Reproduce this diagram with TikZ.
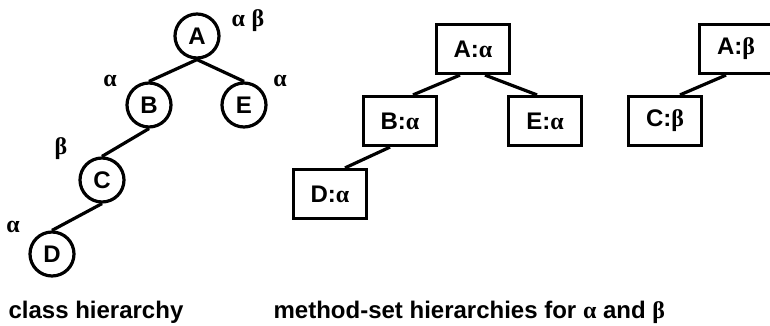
\documentclass[tikz,border=0pt]{standalone}
\usepackage{fontspec}
\setmainfont{Liberation Sans}
\newfontfamily\grk{Liberation Serif}
\newcommand{\ga}{{\grk α}}
\newcommand{\gb}{{\grk β}}
\usetikzlibrary{calc}

\begin{document}
\begin{tikzpicture}[
  x = 1pt, y = -1pt,
  line width = 3.2pt,
  every node/.style = {font=\bfseries\fontsize{24}{28}\selectfont},
  cls/.style = {draw,circle,minimum size=44pt,inner sep=0pt},
  mset/.style = {draw,rectangle,minimum width=73pt,minimum height=49pt,inner sep=0pt},
  lbl/.style = {anchor=base,inner sep=0pt},
  caption/.style = {anchor=base west,inner sep=0pt}
  ]
  \useasboundingbox (0,0) rectangle (770,326);

  % class hierarchy
  \node[cls] (@A) at (197,36) {A};
  \node[cls] (@B) at (149,105) {B};
  \node[cls] (@E) at (244,105) {E};
  \node[cls] (@C) at (102,180) {C};
  \node[cls] (@D) at (52,254) {D};

  \node[lbl] (@lA) at (248,27) {\ga\ \gb};
  \node[lbl] (@lB) at (110,87) {\ga};
  \node[lbl] (@lE) at (280,87) {\ga};
  \node[lbl] (@lC) at (61,154) {\gb};
  \node[lbl] (@lD) at (13,232) {\ga};

  \draw (@A.south) -- (@B.north);
  \draw (@A.south) -- (@E.north);
  \draw (@B.south) -- (@C.north);
  \draw (@C.south) -- (@D.north);

  % method-set hierarchies
  \node[mset] (@Aal) at (473,49) {A:\ga};
  \node[mset] (@Bal) at (400,121) {B:\ga};
  \node[mset] (@Eal) at (545,121) {E:\ga};
  \node[mset] (@Dal) at (330,194) {D:\ga};
  \node[mset] (@Abe) at (736,49) {A:\gb};
  \node[mset] (@Cbe) at (665,121) {C:\gb};

  \draw ([xshift=-13pt]@Aal.south) -- ([xshift=13pt]@Bal.north);
  \draw ([xshift=12pt]@Aal.south) -- ([xshift=-8pt]@Eal.north);
  \draw ([xshift=-10pt]@Bal.south) -- ([xshift=15pt]@Dal.north);
  \draw ([xshift=-10pt]@Abe.south) -- ([xshift=15pt]@Cbe.north);

  \node[caption] (@cap1) at (7,318) {class hierarchy};
  \node[caption] (@cap2) at (272,318) {method-set hierarchies for \ga\ and \gb};
\end{tikzpicture}
\end{document}
